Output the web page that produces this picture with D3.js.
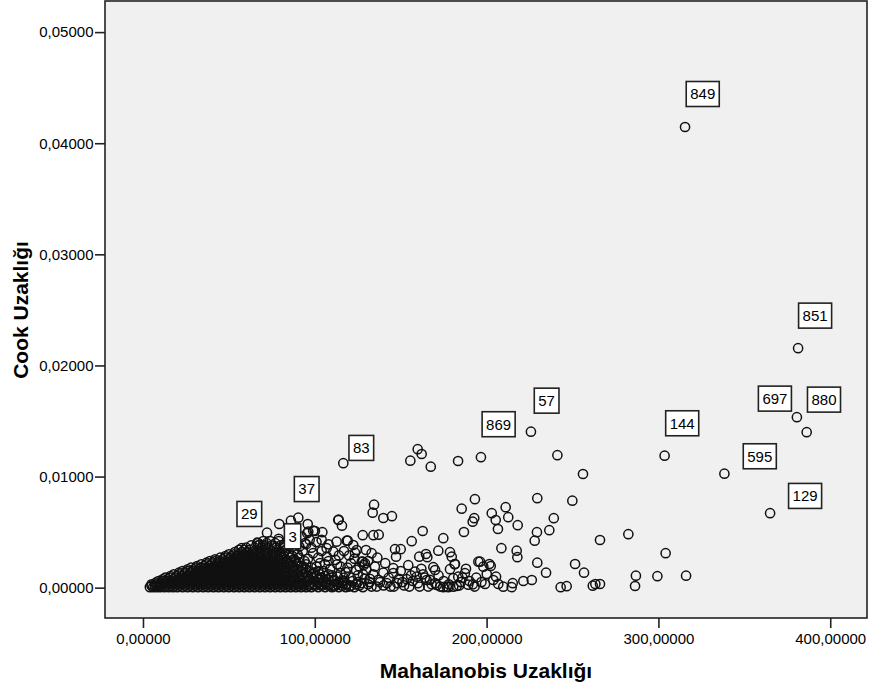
<!DOCTYPE html>
<html>
<head>
<meta charset="utf-8">
<script src="https://cdn.jsdelivr.net/npm/d3@7"></script>
<style>
  html, body { margin: 0; padding: 0; background: #ffffff; }
  svg { display: block; font-family: Arial, "Liberation Sans", sans-serif; }
</style>
</head>
<body>
<svg id="chart" width="872" height="695"></svg>
<script>
// Cook's distance against Mahalanobis distance for every case.

const xTicks = [0, 100, 200, 300, 400];
const yTicks = [0, 0.01, 0.02, 0.03, 0.04, 0.05];

// Dense band of low-leverage cases: one Cook value per band, Mahalanobis values listed per band.
const bandCook = [0.00005, 0.00018, 0.0003, 0.00045, 0.0006, 0.00075, 0.0009, 0.00105, 0.0012, 0.00135,
                  0.0015, 0.00165, 0.0018, 0.00195, 0.0021, 0.00225, 0.0024, 0.00255, 0.0027, 0.00285,
                  0.0030, 0.0032, 0.0034, 0.0036, 0.0038, 0.0040, 0.0042];
const bandMahal = [
  [4,6,8,10,12.5,15,17.5,20,23,26,29,32,35,38,41,44,47,50,53,56,59,62,65,68,71,74,77,80,83,86,89,92,95,98,102,106,110,114,118,123,128],
  [5,7,9,11,13.5,16,18.5,21.5,24.5,27.5,30.5,33.5,36.5,39.5,42.5,45.5,48.5,51.5,54.5,57.5,60.5,63.5,66.5,69.5,72.5,75.5,78.5,81.5,84.5,87.5,90.5,93.5,96.5,100,104,108,112,116,121],
  [5,7.5,10,12,14.5,17,19.5,22,25,28,31,34,37,40,43,46,49,52,55,58,61,64,67,70,73,76,79,82,85,88,91,94,97,100,104,108,113,118,124],
  [7.5,10.5,13,15.5,18,20.5,23.5,26.5,29.5,32.5,35.5,38.5,41.5,44.5,47.5,50.5,53.5,56.5,59.5,62.5,65.5,68.5,71.5,74.5,77.5,80.5,83.5,86.5,90,94,98,102,107,114],
  [9,11.5,14,16.5,19,22,25,28,31,34,37,40,43,46,49,52,55,58,61,64,67,70,73,76,79,82,85,88,92,96,100,105,111,117],
  [11.5,14.5,17.5,20.5,23.5,26.5,29.5,32.5,35.5,38.5,41.5,44.5,47.5,50.5,53.5,56.5,59.5,62.5,65.5,68.5,71.5,74.5,77.5,80.5,84,88,92,97,102,108],
  [13,16,19,22,25,28,31,34,37,40,43,46,49,52,55,58,61,64,67,70,73,76,79,82,86,90,94,99,104,110],
  [16,19.5,22.5,25.5,28.5,31.5,34.5,37.5,40.5,43.5,46.5,49.5,52.5,55.5,58.5,61.5,64.5,67.5,70.5,73.5,76.5,79.5,83,87,91,96,101,106],
  [18,21,24,27,30,33,36,39,42,45,48,51,54,57,60,63,66,69,72,75,78,81,85,89,93,98,103,108],
  [21,24.5,27.5,30.5,33.5,36.5,39.5,42.5,45.5,48.5,51.5,54.5,57.5,60.5,63.5,66.5,69.5,72.5,75.5,78.5,82,86,90,95,100],
  [23,26,29,32,35,38,41,44,47,50,53,56,59,62,65,68,71,74,77,80,84,88,92,97,102],
  [26,29.5,32.5,35.5,38.5,41.5,44.5,47.5,50.5,53.5,56.5,59.5,62.5,65.5,68.5,71.5,74.5,78,82,86,90,95],
  [28,31,34,37,40,43,46,49,52,55,58,61,64,67,70,73,76,80,84,88,93,98],
  [31.5,35.5,38.5,41.5,44.5,47.5,50.5,53.5,56.5,59.5,62.5,65.5,68.5,71.5,75,79,83,87,92],
  [34,37,40,43,46,49,52,55,58,61,64,67,70,73,77,81,85,90,95],
  [37,40.5,43.5,46.5,49.5,52.5,55.5,58.5,61.5,64.5,67.5,70.5,74,78,82,86,91],
  [39,42,45,48,51,54,57,60,63,66,69,72,76,80,84,89,94],
  [42,46.5,49.5,52.5,55.5,58.5,61.5,64.5,67.5,71,75,79,83,88],
  [45,48,51,54,57,60,63,66,69,73,77,81,86,91],
  [48,51.5,54.5,57.5,60.5,63.5,66.5,70,74,78,82,87],
  [50,53,56,59,62,65,68,72,76,80,85,90],
  [53.5,57.5,60.5,64,68,72,76,80,85],
  [56,59,62,66,70,74,78,83,88],
  [60,65,69,73,77,82],
  [63,67,71,75,80,85],
  [67,72,77],
  [70,74,79]
];

// Remaining unlabelled cases as [Mahalanobis, Cook].
const spreadCases = [
  [159.9,0.01246],[162.2,0.01203],[155.6,0.01143],[167.5,0.01089],[183.4,0.0114],[241.2,0.01192],[256.1,0.01023],
  [134.5,0.00747],[133.7,0.00675],[139.9,0.00627],[144.9,0.00643],[193.2,0.00796],[185.5,0.00711],[192.8,0.00625],
  [191.9,0.00594],[186.8,0.00501],[162.8,0.0051],[174.8,0.00445],[156.4,0.00418],[113.9,0.00612],[115.8,0.00558],
  [127.9,0.00472],[134.1,0.00472],[137.2,0.00477],[119.2,0.00423],[86.1,0.00603],[95.9,0.00573],[99.1,0.00513],
  [104.4,0.00499],[95.6,0.0049],[79.3,0.00573],[171.9,0.00333],[146.7,0.00346],[150,0.00346],[147.3,0.00279],
  [160.8,0.00279],[164.7,0.00303],[165.5,0.00274],[178.7,0.00319],[179.7,0.00279],[124.4,0.00339],[129.8,0.00339],
  [133.1,0.0031],[127.9,0.00234],[128.6,0.00204],[136.4,0.0027],[195.2,0.00234],[154.4,0.00202],[169,0.00184],
  [170,0.00159],[181.6,0.00213],[178.7,0.00166],[187.4,0.0013],[189.3,0.00027],[145.7,0.00175],[139.9,0.00135],
  [145.7,0.0013],[158.3,0.00144],[159.3,0.00099],[153.5,0.00076],[165.1,0.00069],[171,0.00024],[176.8,0.00009],
  [180.6,0.00009],[182.6,0.00015],
  [229.5,0.00805],[249.9,0.00783],[211.1,0.00724],[212.6,0.00634],[203,0.0067],[205.3,0.00609],[206.6,0.00528],
  [218.1,0.00562],[239.1,0.00625],[236.5,0.00517],[229.3,0.00499],[228,0.00423],[208.6,0.00355],[217.5,0.00333],
  [217.9,0.00274],[266,0.00429],[282.5,0.00481],[181.4,0.00211],[196.2,0.00234],[201.6,0.00213],[202.4,0.00195],
  [198.1,0.00189],[229.5,0.00225],[251.5,0.00213],[256.7,0.00135],[234.6,0.00135],[183.5,0.00099],[180.6,0.00085],
  [200.1,0.00123],[205.5,0.00099],[203.9,0.00069],[206.8,0.00033],[199.1,0.00033],[286.9,0.00108],[286.4,0.00015],
  [299.4,0.00103],[215.2,0.0004],[214.6,0.00004],[221.4,0.0006],[226.3,0.00069],[209.7,0.00009],[243.1,0.00004],
  [246.6,0.00013],[261.8,0.00018],[263.3,0.00033],[174.8,0.00004],[177.7,0.00004],[304.2,0.0031],[316.1,0.00108],
  [266,0.00033],
  [94.3,0.004],[92.4,0.00459],[68.1,0.00387],[76.4,0.00375],[66.5,0.00405],[69.7,0.00375],[57.4,0.00355],
  [96.2,0.00504],[100.1,0.0051],[113.7,0.00609],[106.9,0.00355],[110.8,0.00324],[122.4,0.00384],[123.4,0.00315],
  [127.3,0.00234],[129.2,0.0022],[112.7,0.00414],[118.6,0.00423],
  [112,0.0025],[115,0.0019],[118,0.0014],[121,0.0022],[125,0.0011],[130,0.0016],[132,0.0008],[135,0.0019],
  [138,0.0005],[141,0.0022],[143,0.0009],[148,0.0004],[150,0.0015],[152,0.0002],[156,0.0011],[160,0.0004],
  [162,0.0017],[164,0.0009],[168,0.0003],[172,0.0011],[175,0.0006],[185,0.0005],[188,0.0017],[192,0.0003],
  [194,0.0009],[107,0.0028],[103,0.0022],[109,0.0017],[113,0.001],[116,0.0006],[119,0.0003],[126,0.0002],
  [133,0.0001],[140,0.0002],[144,0.0001],
  [111,0.00012],[114,0.0005],[117,0.0009],[120,0.0001],[122,0.0006],[124,0.0016],[127,0.0004],[129,0.0008],
  [131,0.0003],[134,0.0012],[136,0.0001],[137,0.0007],[142,0.0004],[146,0.0001],[149,0.0008],[151,0.0005],
  [155,0.0001],[157,0.0006],[161,0.0001],[163,0.0012],[166,0.0001],[167,0.0007],[170,0.0004],[173,0.0001],
  [178,0.0003],[184,0.0002],[186,0.0009],[190,0.0006],[193,0.0001],[197,0.0005],[120,0.0029],[117,0.0033],
  [114,0.0029],[108,0.0039],[104,0.0033],[101,0.0041],[98,0.0036],[97,0.0043],[104,0.0043],
  [96,0.0007],[99,0.0013],[101,0.0019],[103,0.0009],[105,0.0015],[106,0.0004],[108,0.0024],[110,0.0011],
  [111,0.0007],[113,0.0021],[115,0.0013],[117,0.0004],[119,0.0018],[121,0.0009],[123,0.0026],[125,0.0005],
  [126,0.0019],[128,0.0012],[131,0.0024],[132,0.0005],[96,0.0026],[99,0.0031],[102,0.0027],[106,0.0021],
  [93,0.0033],[95,0.0039],[91,0.0037],[88,0.0041],[85,0.0042],[82,0.0039],[79,0.0044]
];

// Cases flagged with their case number.
const labeledIds   = [849, 851, 697, 880, 144, 595, 129, 57, 869, 83, 37, 29, 3];
const labeledMahal = [315.5, 381.3, 380.6, 386.3, 303.6, 338.4, 365.0, 225.8, 196.7, 116.6, 90.4, 72.2, 82.0];
const labeledCook  = [0.04146, 0.02155, 0.01534, 0.01399, 0.01188, 0.01026, 0.0067, 0.01404, 0.01174, 0.0112, 0.0063, 0.00495, 0.0033];

// Where each case-number tag sits relative to its point (pixels).
const tagOffset = {
  849: [17.7, -33], 851: [17, -32.6], 697: [-22, -18.6], 880: [17.3, -32.6], 144: [17.6, -32.4],
  595: [35.4, -17.4], 129: [35, -17.3], 57: [15.7, -31], 869: [17.7, -33], 83: [18, -15.3],
  37: [8.4, -28.6], 29: [-17.7, -18.7], 3: [8.7, -14.7]
};

const svg = d3.select("#chart");
const plot = { left: 105, right: 867, top: 1, bottom: 618 };

const x = d3.scaleLinear().domain([-22.1, 421.4]).range([plot.left, plot.right]);
const y = d3.scaleLinear().domain([-0.00273, 0.0528]).range([plot.bottom, plot.top]);

const comma = f => v => d3.format(f)(v).replace(".", ",");

// Plot background
svg.append("rect")
  .attr("x", plot.left).attr("y", plot.top)
  .attr("width", plot.right - plot.left).attr("height", plot.bottom - plot.top)
  .attr("fill", "#f0f0f0");

// Points
const cases = [];
bandMahal.forEach((row, i) => row.forEach(m => cases.push([m, bandCook[i]])));
spreadCases.forEach(d => cases.push(d));
labeledIds.forEach((id, i) => cases.push([labeledMahal[i], labeledCook[i]]));

svg.append("clipPath").attr("id", "plotclip")
  .append("rect")
  .attr("x", plot.left).attr("y", plot.top)
  .attr("width", plot.right - plot.left).attr("height", plot.bottom - plot.top);

svg.append("g").attr("clip-path", "url(#plotclip)")
  .selectAll("circle").data(cases).join("circle")
  .attr("cx", d => x(d[0]))
  .attr("cy", d => y(d[1]))
  .attr("r", 4.6)
  .attr("fill", "none")
  .attr("stroke", "#111")
  .attr("stroke-width", 1.5);

// Case-number tags
const tags = svg.append("g");
labeledIds.forEach((id, i) => {
  const off = tagOffset[id];
  const cx = x(labeledMahal[i]) + off[0];
  const cy = y(labeledCook[i]) + off[1];
  const g = tags.append("g");
  const t = g.append("text")
    .attr("x", cx).attr("y", cy + 5.3)
    .attr("text-anchor", "middle")
    .attr("font-size", 15)
    .attr("fill", "#000")
    .text(id);
  const w = t.node().getComputedTextLength() + 8;
  g.insert("rect", "text")
    .attr("x", cx - w / 2).attr("y", cy - 12.5)
    .attr("width", w).attr("height", 25)
    .attr("fill", "#ffffff")
    .attr("stroke", "#222")
    .attr("stroke-width", 1.6);
});

// Frame
svg.append("rect")
  .attr("x", plot.left).attr("y", plot.top)
  .attr("width", plot.right - plot.left).attr("height", plot.bottom - plot.top)
  .attr("fill", "none")
  .attr("stroke", "#222")
  .attr("stroke-width", 1.6);

// Axes
const yAxis = svg.append("g")
  .attr("transform", `translate(${plot.left},0)`)
  .call(d3.axisLeft(y).tickValues(yTicks).tickFormat(comma(".5f")).tickSize(10).tickPadding(1.5));
const xAxis = svg.append("g")
  .attr("transform", `translate(0,${plot.bottom})`)
  .call(d3.axisBottom(x).tickValues(xTicks).tickFormat(comma(".5f")).tickSize(10).tickPadding(5));

[xAxis, yAxis].forEach(a => {
  a.select(".domain").remove();
  a.selectAll(".tick line").attr("stroke", "#222").attr("stroke-width", 1.6);
  a.selectAll(".tick text")
    .attr("fill", "#000")
    .attr("font-size", 15)
    .attr("font-family", "Arial, 'Liberation Sans', sans-serif");
});

// Axis titles
svg.append("text")
  .attr("x", 486).attr("y", 678)
  .attr("text-anchor", "middle")
  .attr("font-size", 21).attr("font-weight", "bold")
  .attr("fill", "#000")
  .text("Mahalanobis Uzaklığı");

svg.append("text")
  .attr("transform", "translate(28,310) rotate(-90)")
  .attr("text-anchor", "middle")
  .attr("font-size", 21).attr("font-weight", "bold")
  .attr("fill", "#000")
  .text("Cook Uzaklığı");
</script>
</body>
</html>
